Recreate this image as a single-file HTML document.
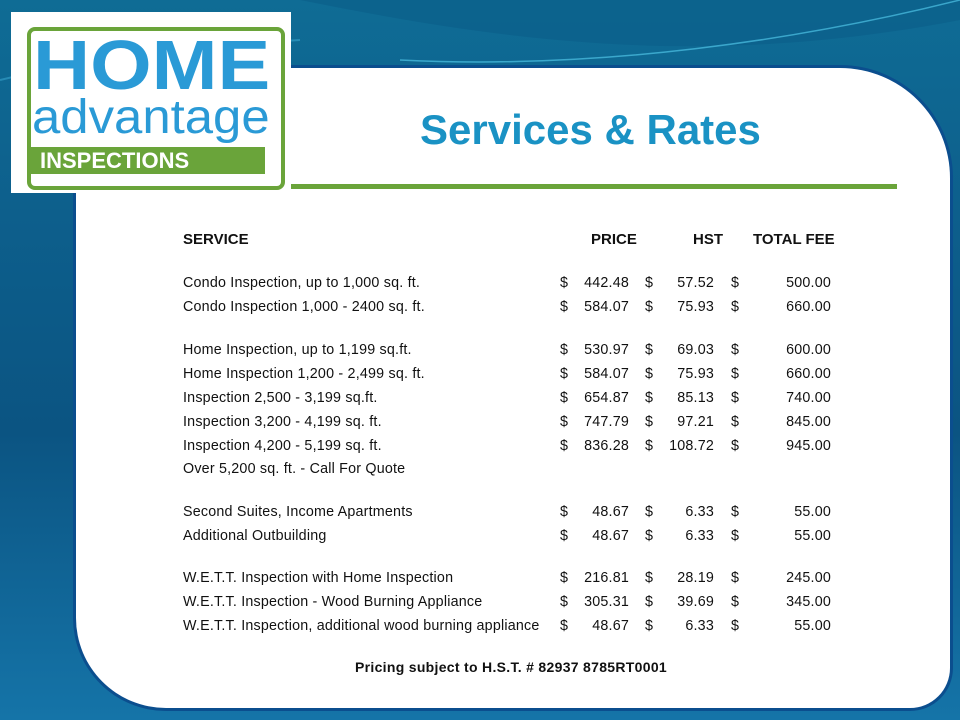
<!DOCTYPE html>
<html><head><meta charset="utf-8"><style>
*{margin:0;padding:0}
body{width:960px;height:720px;overflow:hidden;position:relative;font-family:"Liberation Sans",Arial,sans-serif;
background:linear-gradient(180deg,#0f6c95 0%,#0d5f8c 30%,#0b5482 60%,#1574a8 100%);}
.bgwave{position:absolute;left:0;top:0;width:960px;height:720px}
.panel{position:absolute;left:76px;top:68px;width:874px;height:640px;background:#fff;border-radius:0 110px 40px 90px/0 110px 40px 90px;box-shadow:0 0 0 3px #0b4e8e;}
.logo{position:absolute;left:11px;top:12px;width:280px;height:181px;background:#fff}
.logoin{position:absolute;left:16px;top:15px;width:258px;height:163px;border:4px solid #6aa43a;border-radius:8px;box-sizing:border-box}
.home{position:absolute;left:33px;top:30px;font:bold 70px/1 "Liberation Sans",sans-serif;color:#2a9ad6;transform-origin:0 0;transform:scaleX(1.13)}
.adv{position:absolute;left:32px;top:94px;font:48px/1 "Liberation Sans",sans-serif;color:#2a9ad6;transform-origin:0 0;transform:scaleX(1.06)}
.insp{position:absolute;left:31px;top:147px;width:234px;height:27px;background:#6aa43a;color:#fff;font:bold 22px/27px "Liberation Sans",sans-serif;padding-left:9px;box-sizing:border-box}
h1{position:absolute;left:420px;top:109px;font:bold 42px/1 "Liberation Sans",sans-serif;color:#1a92c4;transform-origin:0 0;transform:scaleX(1.0)}
.rule{position:absolute;left:291px;top:184px;width:606px;height:5px;background:#6aa43a}
.t{position:absolute;font-size:14.3px;color:#111;white-space:nowrap;letter-spacing:0.2px}
.b{font-weight:bold}
.h{font-size:15px;letter-spacing:0}
.r{text-align:right}
</style></head><body>
<svg class="bgwave" viewBox="0 0 960 720"><path d="M300 0 C500 40 700 70 960 20 L960 0Z" fill="#0a5d88" opacity=".6"/>
<path d="M400 60 C600 70 800 40 960 0" stroke="#4fc3e6" stroke-width="1.5" fill="none" opacity=".7"/>
<path d="M0 80 C80 60 150 50 300 40" stroke="#3fb0d8" stroke-width="2" fill="none" opacity=".5"/></svg>
<div class="panel"></div>
<div class="logo"><div class="logoin"></div></div>
<div class="home">HOME</div>
<div class="adv">advantage</div>
<div class="insp">INSPECTIONS</div>
<h1>Services &amp; Rates</h1>
<div class="rule"></div>

<div class="t b h" style="left:183px;top:231px">SERVICE</div>
<div class="t b h" style="left:591px;top:231px">PRICE</div>
<div class="t b h" style="left:693px;top:231px">HST</div>
<div class="t b h" style="left:753px;top:231px">TOTAL FEE</div>

<div id="rows"></div>
<div class="t b" style="left:355px;top:659px;font-size:14px;letter-spacing:0.3px">Pricing subject to H.S.T. # 82937 8785RT0001</div>

<div class="t" style="left:183px;top:275px">Condo Inspection, up to 1,000 sq. ft.</div>
<div class="t" style="left:183px;top:299px">Condo Inspection 1,000 - 2400 sq. ft.</div>
<div class="t" style="left:183px;top:342px">Home Inspection, up to 1,199 sq.ft.</div>
<div class="t" style="left:183px;top:366px">Home Inspection 1,200 - 2,499 sq. ft.</div>
<div class="t" style="left:183px;top:390px">Inspection 2,500 - 3,199 sq.ft.</div>
<div class="t" style="left:183px;top:414px">Inspection 3,200 - 4,199 sq. ft.</div>
<div class="t" style="left:183px;top:438px">Inspection 4,200 - 5,199 sq. ft.</div>
<div class="t" style="left:183px;top:461px">Over 5,200 sq. ft. - Call For Quote</div>
<div class="t" style="left:183px;top:504px">Second Suites, Income Apartments</div>
<div class="t" style="left:183px;top:528px">Additional Outbuilding</div>
<div class="t" style="left:183px;top:570px">W.E.T.T. Inspection with Home Inspection</div>
<div class="t" style="left:183px;top:594px">W.E.T.T. Inspection - Wood Burning Appliance</div>
<div class="t" style="left:183px;top:618px">W.E.T.T. Inspection, additional wood burning appliance</div>

<script>
var d=[[275,"442.48","57.52","500.00"],[299,"584.07","75.93","660.00"],[342,"530.97","69.03","600.00"],[366,"584.07","75.93","660.00"],[390,"654.87","85.13","740.00"],[414,"747.79","97.21","845.00"],[438,"836.28","108.72","945.00"],[504,"48.67","6.33","55.00"],[528,"48.67","6.33","55.00"],[570,"216.81","28.19","245.00"],[594,"305.31","39.69","345.00"],[618,"48.67","6.33","55.00"]];
var h="";d.forEach(function(r){var y=r[0];
h+='<div class="t" style="left:560px;top:'+y+'px">$</div><div class="t r" style="left:569px;width:60px;top:'+y+'px">'+r[1]+'</div>';
h+='<div class="t" style="left:645px;top:'+y+'px">$</div><div class="t r" style="left:654px;width:60px;top:'+y+'px">'+r[2]+'</div>';
h+='<div class="t" style="left:731px;top:'+y+'px">$</div><div class="t r" style="left:751px;width:80px;top:'+y+'px">'+r[3]+'</div>';});
document.getElementById("rows").innerHTML=h;
</script>
</body></html>
